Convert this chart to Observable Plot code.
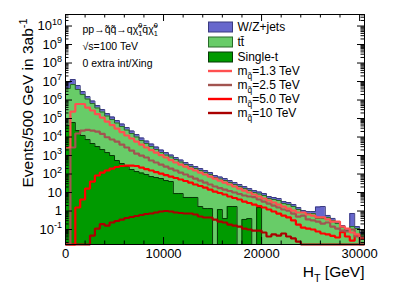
<!DOCTYPE html>
<html><head><meta charset="utf-8">
<script src="https://cdn.jsdelivr.net/npm/d3@7"></script>
<script src="https://cdn.jsdelivr.net/npm/@observablehq/plot@0.6"></script>
<style>
body{margin:0;background:#fff}
svg{font-family:"Liberation Sans",Arial,Helvetica,sans-serif}
</style>
</head><body><div id="chart"></div>
<script>
// ---- data: 500 GeV bins from 0 to 30500 GeV ----
const binWidth = 500;
const nBins = 61;
const singleT = [4.19e4,6.08e4,2.24e4,1.21e4,7.3e3,4.45e3,3.06e3,2.11e3,1.45e3,1.0e3,
  537,370,254,175,136,113,94,73,64.7,57,
  44.5,39.3,8.8,8.8,5.4,5.4,5.4,1.75,1.36,1.36,
  0,1.2,0.39,1.75,1.75,0,0.35,0.39,0,1.55,
  0,0,0,0,0,0,0,0,0,0,0,0,0,0,0,0,0,0,0,0,0];
const ttbar = [4.15e6,6.82e6,3.68e6,1.97e6,1.12e6,6.43e5,3.67e5,2.22e5,1.35e5,8.73e4,
  5.66e4,3.66e4,2.36e4,1.53e4,9860,6360,4360,2990,2045,1393,
  1015,791,599,436,321,249,193,153,119,92.6,
  64.7,52.5,44.1,33.0,25.3,21.1,16.0,12.4,10.0,6.75,
  6.9,4.74,4.19,3.70,2.54,2.24,1.75,1.21,0.83,0.73,
  0.73,0.39,0.39,0.45,0.31,0.21,0.128,0.088,0.145,0.113,0.054];
const wzJets = [4.65e6,5.94e6,2.39e6,8.95e5,4.12e5,2.36e5,1.35e5,8.18e4,4.96e4,3.22e4,
  2.08e4,1.35e4,8720,5660,3650,2360,1620,1117,770,529,
  387,235,172,126,92,72,56,44,34,26.6,
  18.3,15.2,12.6,9.8,7.7,6.0,4.6,3.6,2.83,2.35,
  1.95,1.34,1.19,1.05,0.72,0.63,0.50,0.34,0.235,0.21,
  0.21,1.26,1.36,0.127,0.088,0.059,0.036,0.025,0.59,0.032,0.015];
const sig13 = [2.71e3,2.39e5,6.08e5,6.08e5,3.93e5,2.71e5,1.75e5,1.13e5,6.88e4,4.45e4,
  2.88e4,1.86e4,1.21e4,8300,5710,3930,2710,1980,1450,1060,
  780,571,419,326,254,198,155,120,94,73,
  57,44.5,34.7,27.1,21.1,16.4,12.8,10.0,7.8,6.08,
  4.74,3.70,2.88,2.24,1.75,1.36,1.06,0.83,0.83,0.65,
  0.57,0.45,0.45,0.35,0.27,0.27,0.145,0.113,0.069,0.054,0.037];
const sig25 = [0,2.71e3,1.55e4,2.24e4,2.45e4,2.24e4,1.98e4,1.49e4,9750,7330,
  5710,3930,2710,1860,1280,1000,780,537,419,326,
  254,198,155,120,94,73,57,44.5,34.7,27.1,
  21.1,17.5,14.5,12.1,10.0,8.3,6.9,6.08,5.71,4.19,
  3.26,2.54,1.98,1.55,1.21,1.06,0.73,0.50,0.57,0.35,
  0.31,0.27,0.21,0.24,0.145,0.113,0.088,0.078,0.10,0.042,0];
const sig50 = [0,0,1.55,4.19,16.4,39.3,83,120,155,198,
  239,271,288,288,271,224,186,155,128,106,
  88,73,60.8,50.5,41.9,34.7,27.1,22.5,18.6,14.5,
  11.3,9.4,7.8,6.08,5.05,4.19,3.26,2.71,2.24,1.86,
  1.55,1.21,0.94,0.73,0.57,0.45,0.31,0.186,0.128,0.113,
  0.10,0.078,0.061,0.054,0.045,0.037,0.073,0.042,0.025,0.047,0.033];
const sig10 = [0,0,0,0,0,0.047,0.113,0.198,0.164,0.239,
  0.288,0.347,0.419,0.474,0.537,0.608,0.689,0.733,0.83,0.94,
  1.0,0.94,0.83,0.78,0.733,0.733,0.647,0.505,0.446,0.446,
  0.347,0.27,0.239,0.186,0.164,0.145,0.113,0.10,0.088,0.088,
  0.069,0.042,0.054,0.047,0.061,0.042,0.033,0.022,0,0,
  0,0,0,0,0,0,0,0,0,0,0];

const xTicks = [0, 10000, 20000, 30000];
const xTickLabels = ["0", "10000", "20000", "30000"];
const yTicks = [1e-1, 1, 10, 1e2, 1e3, 1e4, 1e5, 1e6, 1e7, 1e8, 1e9, 1e10];
const yTickLabels = ["10^{-1}", "1", "10", "10^{2}", "10^{3}", "10^{4}", "10^{5}", "10^{6}", "10^{7}", "10^{8}", "10^{9}", "10^{10}"];

const legendLabels = ["W/Z+jets", "tt\u0304", "Single-t", "m_{q\u0303}=1.3 TeV", "m_{q\u0303}=2.5 TeV", "m_{q\u0303}=5.0 TeV", "m_{q\u0303}=10 TeV"];
const infoLines = ["pp\u2192q\u0303q\u0303\u2192q\u03c7\u0303#{0}{1}q\u0304\u03c7\u0303#{0}{1}", "\u221As=100 TeV", "0 extra int/Xing"];
const yTitle = "Events/500 GeV in 3ab^{-1}";
const xTitle = "H_{T} [GeV]";

// ---- styling ----
const C = {
  wz: "#6767cc", wzLine: "#3a3a80",
  tt: "#68cc68", ttLine: "#2a6a2a",
  st: "#009a00", stLine: "#073807",
  s13: "#ff5050", s25: "#a25450", s50: "#ff0000", s10: "#aa0000"
};
const W = 405, H = 291, mL = 65, mR = 41, mT = 14, mB = 47;
const plotW = W - mL - mR, plotH = H - mT - mB;
const yMin = 0.0155, yMax = 4.2e10, xMax = 30500;

function steps(vals) {
  const out = [];
  vals.forEach((v, i) => {
    const y = v > yMin ? v : yMin;
    out.push({x: i * binWidth, y}, {x: (i + 1) * binWidth, y});
  });
  return out;
}
const cumSingle = singleT.slice();
const cumTT = singleT.map((v, i) => v + ttbar[i]);
const cumAll = cumTT.map((v, i) => v + wzJets[i]);

const yMinor = [];
for (let e = -2; e <= 10; e++) for (let m = 2; m <= 9; m++) { const v = m * 10 ** e; if (v > yMin && v < yMax) yMinor.push(v); }
const xMinor = [];
for (let v = 0; v <= xMax; v += 2000) if (v % 10000) xMinor.push(v);

const lineOpts = {x: "x", y: "y", strokeLinejoin: "miter", strokeLinecap: "butt"};
const infoY = [15, 32, 49];

const chart = Plot.plot({
  width: W, height: H,
  marginLeft: mL, marginRight: mR, marginTop: mT, marginBottom: mB,
  style: {background: "white", fontFamily: "Liberation Sans, Arial, Helvetica, sans-serif", fontSize: "13px", overflow: "visible"},
  x: {domain: [0, xMax], axis: null},
  y: {type: "log", domain: [yMin, yMax], axis: null},
  marks: [
    Plot.areaY(steps(cumAll), {x: "x", y1: yMin, y2: "y", fill: C.wz}),
    Plot.areaY(steps(cumTT), {x: "x", y1: yMin, y2: "y", fill: C.tt}),
    Plot.areaY(steps(cumSingle), {x: "x", y1: yMin, y2: "y", fill: C.st}),
    Plot.line(steps(cumAll), {...lineOpts, stroke: C.wzLine, strokeWidth: 1}),
    Plot.line(steps(cumTT), {...lineOpts, stroke: C.ttLine, strokeWidth: 1}),
    Plot.line(steps(cumSingle), {...lineOpts, stroke: C.stLine, strokeWidth: 1}),
    Plot.line(steps(sig10), {...lineOpts, stroke: C.s10, strokeWidth: 2.2}),
    Plot.line(steps(sig50), {...lineOpts, stroke: C.s50, strokeWidth: 2.2}),
    Plot.line(steps(sig25), {...lineOpts, stroke: C.s25, strokeWidth: 2.2}),
    Plot.line(steps(sig13), {...lineOpts, stroke: C.s13, strokeWidth: 2.2}),
    // ticks inside the frame, all four sides
    Plot.tickY(yTicks, {y: d => d, insetRight: plotW - 7, stroke: "black"}),
    Plot.tickY(yTicks, {y: d => d, insetLeft: plotW - 7, stroke: "black"}),
    Plot.tickY(yMinor, {y: d => d, insetRight: plotW - 3.5, stroke: "black"}),
    Plot.tickY(yMinor, {y: d => d, insetLeft: plotW - 3.5, stroke: "black"}),
    Plot.tickX(xTicks, {x: d => d, insetTop: plotH - 7, stroke: "black"}),
    Plot.tickX(xTicks, {x: d => d, insetBottom: plotH - 7, stroke: "black"}),
    Plot.tickX(xMinor, {x: d => d, insetTop: plotH - 3.5, stroke: "black"}),
    Plot.tickX(xMinor, {x: d => d, insetBottom: plotH - 3.5, stroke: "black"}),
    // tick labels
    Plot.text(xTicks, {x: d => d, text: (d, i) => xTickLabels[i], frameAnchor: "bottom", lineAnchor: "middle", dy: 9, fontSize: 13, fill: "black"}),
    Plot.text(yTicks, {y: d => d, text: (d, i) => yTickLabels[i], frameAnchor: "left", textAnchor: "end", lineAnchor: "middle", dx: -3.5, fontSize: 13, fill: "black"}),
    // axis titles
    Plot.text([yTitle], {frameAnchor: "top-left", rotate: -90, textAnchor: "end", lineAnchor: "middle", dx: -37, dy: 4, fontSize: 15.5, fill: "black"}),
    Plot.text([xTitle], {frameAnchor: "bottom-right", textAnchor: "end", lineAnchor: "middle", dy: 28, fontSize: 15.5, fill: "black"}),
    // info text lines
    ...infoLines.map((t, i) => Plot.text([t], {frameAnchor: "top-left", textAnchor: "start", lineAnchor: "middle", dx: 17, dy: infoY[i], fontSize: 10.5, fill: "black"})),
    Plot.frame({stroke: "black", strokeWidth: 1})
  ]
});
document.getElementById("chart").appendChild(chart);

const svgNS = "http://www.w3.org/2000/svg";
const svg = d3.select(chart);

// legend
const legendRows = [27, 42, 57, 71, 85, 99, 113];
const leg = svg.append("g");
const legendStyle = [
  {type: "box", fill: C.wz, stroke: C.wzLine},
  {type: "box", fill: C.tt, stroke: C.ttLine},
  {type: "box", fill: C.st, stroke: C.stLine},
  {type: "line", stroke: C.s13},
  {type: "line", stroke: C.s25},
  {type: "line", stroke: C.s50},
  {type: "line", stroke: C.s10}
];
legendLabels.forEach((lab, k) => {
  const y = legendRows[k], st = legendStyle[k];
  if (st.type === "box") {
    leg.append("rect").attr("x", 208.5).attr("y", y - 5).attr("width", 24).attr("height", 10)
      .attr("fill", st.fill).attr("stroke", st.stroke).attr("stroke-width", 1);
  } else {
    leg.append("line").attr("x1", 208).attr("x2", 232).attr("y1", y).attr("y2", y)
      .attr("stroke", st.stroke).attr("stroke-width", 2.4);
  }
  leg.append("text").attr("x", 237.5).attr("y", y).attr("dy", "0.35em")
    .attr("font-size", 12).attr("text-anchor", "start").attr("fill", "black").text(lab);
});

// rich text: ^{sup}, _{sub}, #{sup}{sub}
function rich(textEl) {
  const s = textEl.textContent;
  if (!/[\^_#]\{/.test(s)) return;
  const fs = parseFloat(getComputedStyle(textEl).fontSize) || 12;
  while (textEl.firstChild) textEl.removeChild(textEl.firstChild);
  const re = /\^\{([^}]*)\}|_\{([^}]*)\}|#\{([^}]*)\}\{([^}]*)\}/g;
  let last = 0, cur = 0, m;
  const span = (txt, shift, size, dx) => {
    const t = document.createElementNS(svgNS, "tspan");
    t.textContent = txt;
    const d = shift - cur;
    if (d) t.setAttribute("dy", d);
    cur = shift;
    if (size) t.setAttribute("font-size", size);
    if (dx) t.setAttribute("dx", dx);
    textEl.appendChild(t);
  };
  while ((m = re.exec(s))) {
    if (m.index > last) span(s.slice(last, m.index), 0);
    if (m[1] !== undefined) span(m[1], -0.42 * fs, 0.7 * fs);
    else if (m[2] !== undefined) span(m[2], 0.28 * fs, 0.7 * fs);
    else {
      span(m[3], -0.42 * fs, 0.7 * fs);
      span(m[4], 0.3 * fs, 0.7 * fs, -0.556 * 0.7 * fs * m[3].length);
    }
    last = re.lastIndex;
  }
  if (last < s.length) span(s.slice(last), 0);
}
svg.selectAll("text").each(function() { rich(this); });
</script>
</body></html>
